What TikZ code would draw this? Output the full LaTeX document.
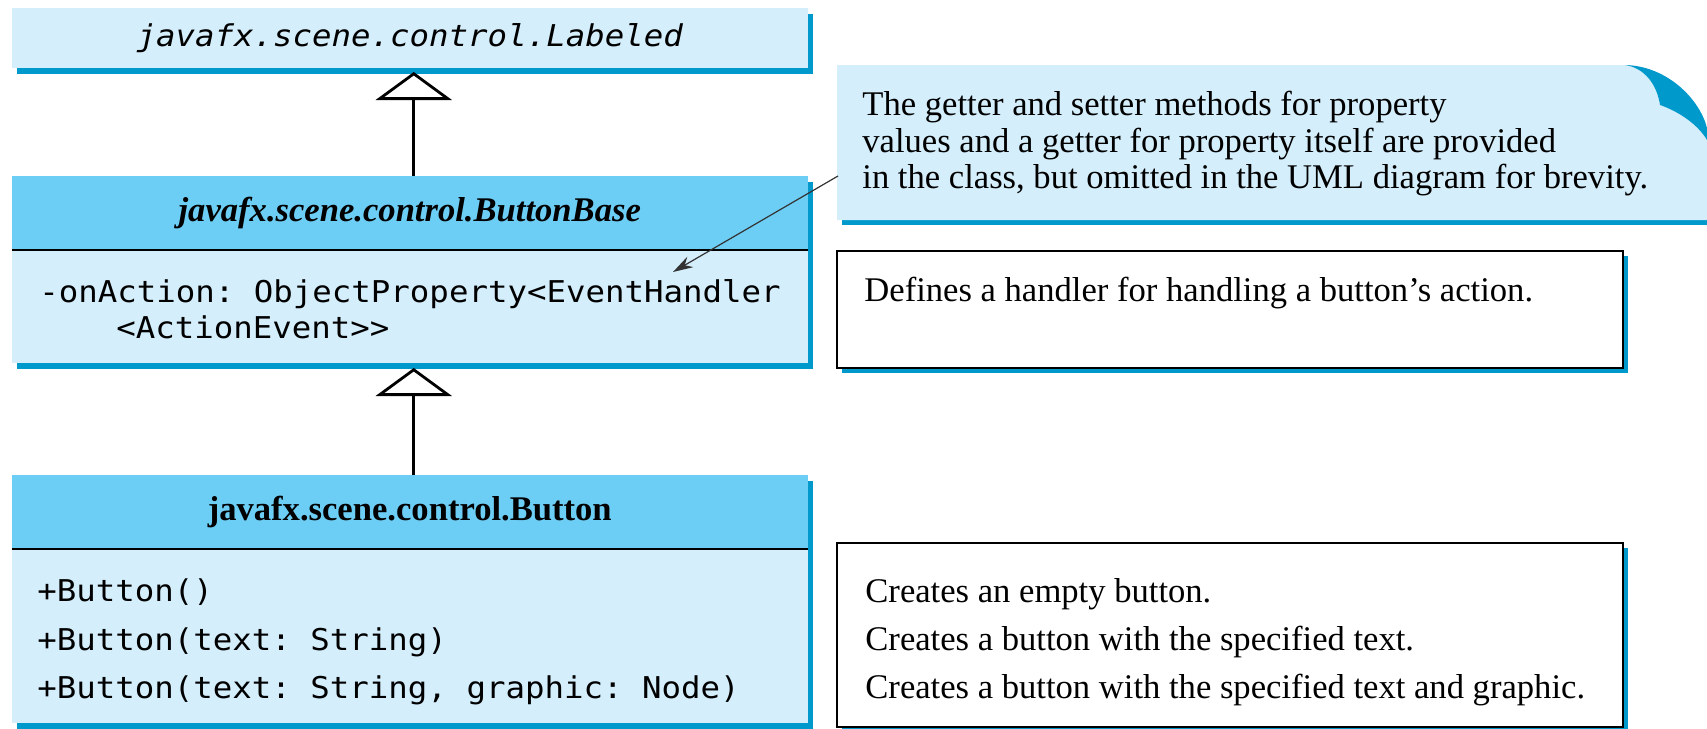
\documentclass[tikz,border=0pt]{standalone}
\usepackage{fontspec}
\setmainfont{Liberation Serif}
\setmonofont[FakeStretch=1.08]{DejaVu Sans Mono}
\usetikzlibrary{arrows.meta,shadows}
\definecolor{boxlight}{RGB}{212,238,251}
\definecolor{headblue}{RGB}{109,206,245}
\definecolor{shadowblue}{RGB}{0,153,204}
\definecolor{pinline}{RGB}{51,51,51}
\newcommand{\memberfont}{\ttfamily\fontsize{15pt}{18pt}\selectfont}
\newcommand{\descfont}{\rmfamily\fontsize{17.3pt}{20pt}\selectfont}
\tikzset{
	umlpart/.style={fill=boxlight,inner sep=0pt,outer sep=0pt,anchor=north west,minimum width=398.25pt,
		general shadow={fill=shadowblue,shadow xshift=2.5pt,shadow yshift=-3pt}},
	umlhead/.style={umlpart,fill=headblue,font=\descfont},
	descbox/.style={draw=black,line width=1pt,fill=white,inner sep=0pt,outer sep=0pt,anchor=north west,minimum width=393pt,
		general shadow={fill=shadowblue,shadow xshift=2.5pt,shadow yshift=-2.5pt}},
	member/.style={font=\memberfont,anchor=base west,inner sep=0pt},
	desc/.style={font=\descfont,anchor=base west,inner sep=0pt},
	inherit/.style={line width=1.4pt,-{Triangle[open,length=14pt,width=38pt]}},
	pin/.style={pinline,line width=0.6pt,-{Stealth[length=10pt,width=6pt]}}
}

\begin{document}
\begin{tikzpicture}[x=0.5pt,y=-0.5pt]
	\clip (0,0) rectangle (1707,728);
	% note with curled corner
	\fill[shadowblue] (842,214) rectangle (1707,225);
	\fill[boxlight] (837,65) -- (1625,65) .. controls (1645,68) and (1657,85) .. (1660,105)
		.. controls (1680,112) and (1698,125) .. (1707,140) -- (1707,220) -- (837,220) -- cycle;
	\fill[shadowblue] (1625,65) .. controls (1668,66) and (1700,100) .. (1707,128) -- (1707,140)
		.. controls (1698,125) and (1680,112) .. (1660,105) .. controls (1657,85) and (1645,68) .. (1625,65) -- cycle;
	\node[desc] (note1) at (862,115) {The getter and setter methods for property};
	\node[desc] (note2) at (862,152) {values and a getter for property itself are provided};
	\node[desc] (note3) at (862,188) {in the class, but omitted in the UML diagram for brevity.};
	\coordinate (notepin) at (838,176);

	% classes
	\node[umlpart,minimum height=30pt,font=\memberfont\itshape] (labeled) at (11.5,8) {javafx.scene.control.Labeled};

	\node[umlhead,minimum height=37pt] (bbhead) at (11.5,176) {\bfseries\itshape javafx.scene.control.ButtonBase};
	\node[umlpart,minimum height=56.5pt] (bbbody) at (bbhead.south west) {};
	\draw[line width=1.25pt] (bbhead.south west) -- (bbhead.south east);
	\node[member] (onaction) at (39,302) {-onAction: ObjectProperty<EventHandler};
	\node[member] (actionevent) at (116,338) {<ActionEvent>>};

	\node[umlhead,minimum height=37pt] (btnhead) at (11.5,475) {\bfseries javafx.scene.control.Button};
	\node[umlpart,minimum height=87pt] (btnbody) at (btnhead.south west) {};
	\draw[line width=1.25pt] (btnhead.south west) -- (btnhead.south east);
	\node[member] (ctor1) at (37,601) {+Button()};
	\node[member] (ctor2) at (37,650) {+Button(text: String)};
	\node[member] (ctor3) at (37,698) {+Button(text: String, graphic: Node)};

	% descriptions
	\node[descbox,minimum height=58.5pt] (actionbox) at (837,251) {};
	\node[desc] (actiontext) at (864,301) {Defines a handler for handling a button’s action.};
	\node[descbox,minimum height=92pt] (ctorbox) at (837,543) {};
	\node[desc] (ctortext1) at (865,602) {Creates an empty button.};
	\node[desc] (ctortext2) at (865,650) {Creates a button with the specified text.};
	\node[desc] (ctortext3) at (865,698) {Creates a button with the specified text and graphic.};

	% inheritance
	\draw[inherit] ([xshift=2pt]bbhead.north) -- ([xshift=2pt,yshift=-2pt]labeled.south);
	\draw[inherit] ([xshift=2pt]btnhead.north) -- ([xshift=2pt,yshift=-2.5pt]bbbody.south);

	\coordinate (handler) at (673,272);
	\draw[pin] (notepin) -- (handler);
\end{tikzpicture}
\end{document}
